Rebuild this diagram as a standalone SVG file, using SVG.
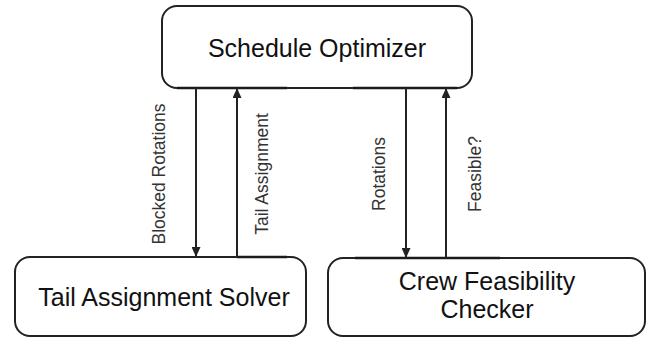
<svg xmlns="http://www.w3.org/2000/svg" width="647" height="339" viewBox="0 0 647 339">
  <style>
    .box { fill: #ffffff; stroke: #222222; stroke-width: 2; }
    .title { font-family: "Liberation Sans", Arial, sans-serif; font-size: 25px; fill: #111111; text-anchor: middle; }
    .edge { stroke: #222222; stroke-width: 2; fill: none; }
    .rail { stroke: #1a1a1a; stroke-width: 2.6; fill: none; }
    .lbl { font-family: "Liberation Sans", Arial, sans-serif; font-size: 17.5px; fill: #333333; text-anchor: middle; }
  </style>
  <defs>
    <marker id="arrow" viewBox="0 0 10 10" refX="10" refY="5" markerWidth="5" markerHeight="4.5" markerUnits="strokeWidth" orient="auto" preserveAspectRatio="none">
      <path d="M0,0 L10,5 L0,10 Z" fill="#222222"/>
    </marker>
  </defs>

  <g id="schedule-optimizer">
    <rect class="box" x="162" y="6" width="310" height="82" rx="15"/>
    <text class="title" x="317" y="57">Schedule Optimizer</text>
  </g>

  <g id="tail-assignment-solver">
    <rect class="box" x="15" y="257" width="291" height="79" rx="15"/>
    <text class="title" x="164" y="306">Tail Assignment Solver</text>
  </g>

  <g id="crew-feasibility-checker">
    <rect class="box" x="328" y="258" width="317" height="78" rx="15"/>
    <text class="title" x="487" y="290">Crew Feasibility</text>
    <text class="title" x="487" y="318">Checker</text>
  </g>

  <g id="connectors">
    <!-- attachment rails along the box borders -->
    <path class="rail" d="M177,88 H287 M353,88 H457"/>
    <path class="rail" d="M237,257 H287 M355,258 H500"/>

    <line class="edge" x1="196" y1="88" x2="196" y2="257" marker-end="url(#arrow)"/>
    <line class="edge" x1="237" y1="257" x2="237" y2="88" marker-end="url(#arrow)"/>
    <line class="edge" x1="406" y1="88" x2="406" y2="258" marker-end="url(#arrow)"/>
    <line class="edge" x1="446" y1="258" x2="446" y2="88" marker-end="url(#arrow)"/>

    <text class="lbl" transform="translate(165,174) rotate(-90)">Blocked Rotations</text>
    <text class="lbl" transform="translate(268,174) rotate(-90)">Tail Assignment</text>
    <text class="lbl" transform="translate(385,174) rotate(-90)">Rotations</text>
    <text class="lbl" transform="translate(481,174) rotate(-90)">Feasible?</text>
  </g>
</svg>
